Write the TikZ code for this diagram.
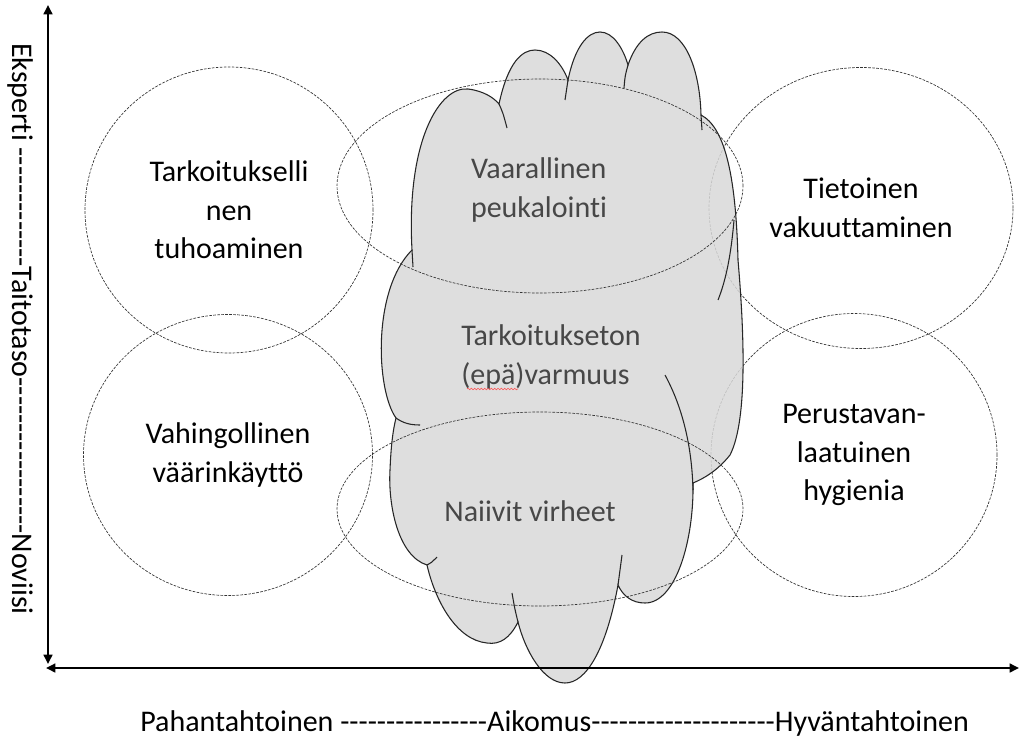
\documentclass[tikz,border=0pt]{standalone}
\usepackage{fontspec}
\setmainfont{Carlito}[Ligatures={TeXOff,NoCommon}]
\usetikzlibrary{arrows.meta,shapes.geometric,decorations.pathmorphing}

\begin{document}
\begin{tikzpicture}
        [x=0.75pt, y=-0.75pt, every node/.style={font=\fontsize{22.5}{29}\selectfont, align=center},
         zone/.style={draw=black!80, dash pattern=on 2pt off 1pt, line width=0.5pt, ellipse, inner sep=0},
         cloudline/.style={draw=black!85, line width=0.8pt},
         cloudtext/.style={text=black!72},
         axis/.style={line width=2.2pt, {Triangle[length=7pt,width=6.5pt]}-{Triangle[length=7pt,width=6.5pt]}}]

        \fill[white] (0,0) rectangle (1019,742);
        \useasboundingbox (0,0) rectangle (1019,742);

        \node[zone, minimum width=216pt, minimum height=214.5pt] (tuho) at (229,210) {Tarkoitukselli\\nen\\tuhoaminen};
        \node[zone, minimum width=216.75pt, minimum height=210.75pt] (vahinko) at (228,455) {Vahingollinen\\väärinkäyttö};
        \node[zone, minimum width=228pt, minimum height=210.75pt] (tietoinen) at (861,208) {Tietoinen\\vakuuttaminen};
        \node[zone, minimum width=214.5pt, minimum height=212.25pt] (hygienia) at (854,455) {Perustavan-\\laatuinen\\hygienia};

        \path[cloudline, fill=black!15, fill opacity=0.85] (412,250)
          .. controls (406,140) and (440,86) .. (468,89)
          .. controls (484,91) and (494,98) .. (499,104)
          .. controls (508,62) and (522,50) .. (535,50)
          .. controls (550,50) and (562,64) .. (568,80)
          .. controls (575,46) and (588,32) .. (600,32)
          .. controls (613,32) and (623,48) .. (628,65)
          .. controls (636,42) and (648,32) .. (662,32)
          .. controls (686,32) and (700,72) .. (701,115)
          .. controls (726,128) and (736,180) .. (738,260)
          .. controls (744,330) and (748,420) .. (730,455)
          .. controls (718,470) and (705,478) .. (693,483)
          .. controls (694,540) and (676,603) .. (645,603)
          .. controls (632,603) and (623,596) .. (618,585)
          .. controls (606,650) and (586,683) .. (565,683)
          .. controls (543,683) and (525,650) .. (518,622)
          .. controls (510,638) and (500,645) .. (487,643)
          .. controls (456,640) and (435,600) .. (427,565)
          .. controls (398,556) and (388,505) .. (390,470)
          .. controls (391,445) and (393,430) .. (396,418)
          .. controls (376,390) and (372,290) .. (412,250) -- cycle;

        \draw[cloudline] (499,104) .. controls (503,113) .. (507,128);
        \draw[cloudline] (568,80) .. controls (566,90) .. (565,100);
        \draw[cloudline] (628,65) .. controls (625,76) .. (624,88);
        \draw[cloudline] (701,115) -- (702,130);
        \draw[cloudline] (734,220) .. controls (731,255) and (726,280) .. (718,300);
        \draw[cloudline] (665,375) .. controls (684,410) and (692,450) .. (693,490);
        \draw[cloudline] (396,418) .. controls (403,423) and (410,425) .. (420,425);
        \draw[cloudline] (412,250) -- (413,267);
        \draw[cloudline] (427,565) .. controls (431,563) .. (437,557);
        \draw[cloudline] (518,622) .. controls (515,610) .. (512,593);
        \draw[cloudline] (618,585) .. controls (620,570) .. (622,555);

        \node[zone, minimum width=304.5pt, minimum height=160.5pt] (vaara) at (540,186) {};
        \node[zone, minimum width=304.5pt, minimum height=145.5pt] (naiivi) at (540,509) {};

        \node[cloudtext, align=left] (peukalointi) at (539,190) {Vaarallinen\\peukalointi};
        \node[cloudtext, align=left] (varmuus) at (551,357) {Tarkoitukseton\\(epä)varmuus};
        \node[cloudtext] (virheet) at (530,511) {Naiivit virheet};
        \draw[red!70, line width=0.4pt, decorate, decoration={snake, amplitude=0.6pt, segment length=2.5pt}] (467,389) -- (518,389);

        \coordinate (ytop) at (48,5);
        \coordinate (ybot) at (48,664);
        \coordinate (xleft) at (46,668);
        \coordinate (xright) at (1019,668);
        \draw[axis] (ybot) -- (ytop);
        \draw[axis] (xleft) -- (xright);

        \node[rotate=-90] (taitotaso) at (20,329) {Eksperti -------------Taitotaso-----------------Noviisi};
        \node[anchor=base west, inner sep=0] (aikomus) at (140,731) {Pahantahtoinen ----------------Aikomus--------------------Hyväntahtoinen};
\end{tikzpicture}
\end{document}
